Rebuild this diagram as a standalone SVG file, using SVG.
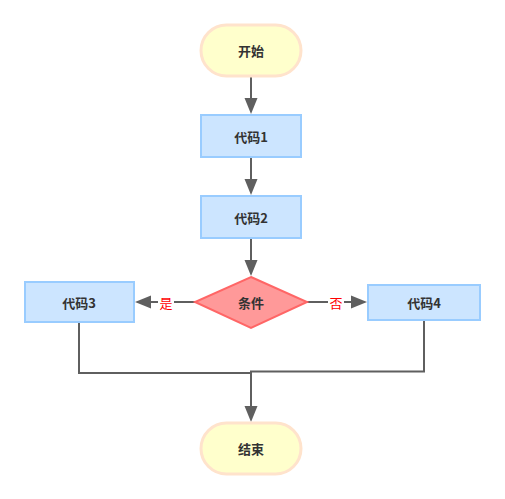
<svg xmlns="http://www.w3.org/2000/svg" width="505" height="499" viewBox="0 0 505 499">
<style>
.term{fill:#FFFFCC;stroke:#FFE3CC;stroke-width:3}
.proc{fill:#CCE5FF;stroke:#99CCFF;stroke-width:2}
.dec{fill:#FF9999;stroke:#FF6666;stroke-width:2}
.t{font-family:"Noto Sans CJK SC","Liberation Sans",sans-serif;font-size:13px;font-weight:bold;fill:#333;text-anchor:middle;dominant-baseline:central}
.lbl{font-family:"Noto Sans CJK SC","Liberation Sans",sans-serif;font-size:13px;fill:#FF0000;text-anchor:middle;dominant-baseline:central}
.ln{fill:none;stroke:#5F5F5F;stroke-width:2}
</style>
<defs>
<marker id="ah" viewBox="0 0 10 10" refX="9" refY="5" markerWidth="6" markerHeight="6" markerUnits="userSpaceOnUse" orient="auto" style="overflow:visible">
<path d="M0,0 L10,5 L0,10 Z" fill="#5F5F5F"/>
</marker>
</defs>
<g id="connectors">
<path class="ln" d="M251,77 V105"/>
<path d="M244.5,98 L257.5,98 L251,114 Z" fill="#5F5F5F"/>
<path class="ln" d="M251,157 V180"/>
<path d="M244.5,179 L257.5,179 L251,195 Z" fill="#5F5F5F"/>
<path class="ln" d="M251,238 V262"/>
<path d="M244.5,260 L257.5,260 L251,276 Z" fill="#5F5F5F"/>
<path class="ln" d="M195,302 H150"/>
<path d="M151,295.5 L151,308.5 L135,302 Z" fill="#5F5F5F"/>
<path class="ln" d="M307,302 H352"/>
<path d="M351,295.5 L351,308.5 L367,302 Z" fill="#5F5F5F"/>
<path class="ln" d="M79,323 V373 H251"/>
<path class="ln" d="M424,321 V371.5 H251 V410"/>
<path d="M244.5,406 L257.5,406 L251,422 Z" fill="#5F5F5F"/>
<rect x="158" y="294" width="16" height="16" fill="#fff"/>
<rect x="328" y="294" width="16" height="16" fill="#fff"/>
<text class="lbl" x="166" y="302">是</text>
<text class="lbl" x="336" y="302">否</text>
</g>
<g id="start">
<rect class="term" x="201" y="25" width="100" height="51" rx="25.5"/>
<text class="t" x="251" y="50.5">开始</text>
</g>
<g id="code1">
<rect class="proc" x="201" y="115" width="100" height="42"/>
<text class="t" x="251" y="136">代码1</text>
</g>
<g id="code2">
<rect class="proc" x="201" y="196" width="100" height="42"/>
<text class="t" x="251" y="217">代码2</text>
</g>
<g id="cond">
<polygon class="dec" points="251,277 307,302 251,328 195,302"/>
<text class="t" x="251" y="302">条件</text>
</g>
<g id="code3">
<rect class="proc" x="25" y="282" width="109" height="40"/>
<text class="t" x="79" y="302">代码3</text>
</g>
<g id="code4">
<rect class="proc" x="368" y="285" width="112" height="35"/>
<text class="t" x="424" y="302.5">代码4</text>
</g>
<g id="end">
<rect class="term" x="201" y="423" width="100" height="51" rx="25.5"/>
<text class="t" x="251" y="448.5">结束</text>
</g>
</svg>
